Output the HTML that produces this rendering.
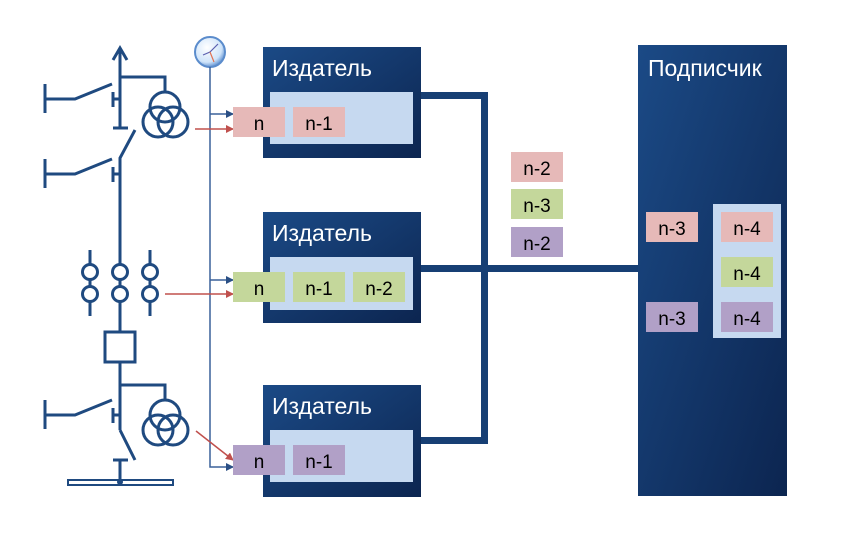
<!DOCTYPE html>
<html><head><meta charset="utf-8"><style>
html,body{margin:0;padding:0;background:#fff;}
svg{display:block;}
text{font-family:"Liberation Sans","DejaVu Sans",sans-serif;}
</style></head><body>
<svg width="847" height="547" viewBox="0 0 847 547" xmlns="http://www.w3.org/2000/svg">
<defs>
<linearGradient id="g" x1="0" y1="0" x2="1" y2="1">
<stop offset="0" stop-color="#1b4a86"/><stop offset="1" stop-color="#0c2550"/>
</linearGradient>
<marker id="ab" markerWidth="8" markerHeight="8" refX="7" refY="4" orient="auto" markerUnits="userSpaceOnUse"><path d="M0,0 L8,4 L0,8 z" fill="#2a4f85"/></marker>
<marker id="ar" markerWidth="8" markerHeight="8" refX="7" refY="4" orient="auto" markerUnits="userSpaceOnUse"><path d="M0,0 L8,4 L0,8 z" fill="#c0504d"/></marker>
<radialGradient id="cl" cx="0.4" cy="0.35" r="0.7"><stop offset="0" stop-color="#fff"/><stop offset="0.7" stop-color="#cfe4fa"/><stop offset="1" stop-color="#4a80c8"/></radialGradient>
</defs>

<g stroke="#1f4a80" stroke-width="3" fill="none">
<path d="M120,48 V128 M113,60 L120,48 L127,60"/>
<path d="M113,128 H128"/>
<path d="M120,77 H165 V92"/>
<circle cx="165" cy="107" r="15"/><circle cx="158" cy="122" r="15"/><circle cx="173" cy="122" r="15"/>
<path d="M45,84 V113 M45,99 H75 L112,84 M113,92 V107 M113,99 H120"/>
<path d="M135,130 L120,158 V250"/>
<path d="M45,159 V188 M45,174 H75 L112,159 M113,167 V182 M113,174 H120"/>
<path d="M90,250 V316 M120,250 V332 M150,250 V316"/>
<circle cx="90" cy="272" r="7.5" fill="#fff"/><circle cx="120" cy="272" r="7.5" fill="#fff"/><circle cx="150" cy="272" r="7.5" fill="#fff"/>
<circle cx="90" cy="294" r="7.5" fill="#fff"/><circle cx="120" cy="294" r="7.5" fill="#fff"/><circle cx="150" cy="294" r="7.5" fill="#fff"/>
<rect x="105" y="332" width="30" height="30"/>
<path d="M120,362 V430"/>
<path d="M120,385 H165 V400"/>
<circle cx="165" cy="415" r="15"/><circle cx="158" cy="430" r="15"/><circle cx="173" cy="430" r="15"/>
<path d="M45,400 V429 M45,415 H75 L112,400 M113,408 V423 M113,415 H120"/>
<path d="M120,430 L135,460 M113,460 H128 M120,460 V482"/>
</g>
<rect x="68" y="480" width="105" height="5" fill="#fff" stroke="#1f4a80" stroke-width="2"/>
<circle cx="120" cy="482" r="3" fill="#1f4a80"/>

<circle cx="210" cy="52" r="15" fill="url(#cl)" stroke="#5b8ccc" stroke-width="2"/>
<path d="M210,52 L218,44 M210,52 L203,55" stroke="#5a5fb0" stroke-width="1.2"/>
<path d="M210,52 L214,62" stroke="#e07050" stroke-width="1.2"/>
<path d="M210,67 V467 H233" stroke="#3a609a" stroke-width="1.5" fill="none" marker-end="url(#ab)"/>
<path d="M210,114 H233" stroke="#3a609a" stroke-width="1.5" marker-end="url(#ab)"/>
<path d="M210,280 H233" stroke="#3a609a" stroke-width="1.5" marker-end="url(#ab)"/>
<path d="M195,129 H233" stroke="#c0504d" stroke-width="1.5" marker-end="url(#ar)"/>
<path d="M165,294 H233" stroke="#c0504d" stroke-width="1.5" marker-end="url(#ar)"/>
<path d="M196,431 L233,460" stroke="#c0504d" stroke-width="1.5" marker-end="url(#ar)"/>

<g fill="#173f74">
<rect x="421" y="92" width="66" height="7"/>
<rect x="481" y="92" width="7" height="352"/>
<rect x="421" y="265" width="217" height="7"/>
<rect x="421" y="437" width="66" height="7"/>
</g>

<g>
<rect x="263" y="47" width="158" height="111" fill="url(#g)"/>
<rect x="270" y="92" width="143" height="52" fill="#c6d9f0"/>
<text x="272" y="76" font-size="23" fill="#fff">Издатель</text>
<rect x="263" y="212" width="158" height="111" fill="url(#g)"/>
<rect x="270" y="257" width="143" height="53" fill="#c6d9f0"/>
<text x="272" y="241" font-size="23" fill="#fff">Издатель</text>
<rect x="263" y="385" width="158" height="112" fill="url(#g)"/>
<rect x="270" y="430" width="143" height="52" fill="#c6d9f0"/>
<text x="272" y="414" font-size="23" fill="#fff">Издатель</text>
<rect x="638" y="45" width="149" height="451" fill="url(#g)"/>
<rect x="713" y="204" width="68" height="134" fill="#c6d9f0"/>
<text x="648" y="76" font-size="23" fill="#fff">Подписчик</text>
</g>

<g font-size="19" text-anchor="middle" fill="#000">
<rect x="233" y="107" width="52" height="30" fill="#e6b9b8"/><text x="259" y="130">n</text>
<rect x="293" y="107" width="52" height="30" fill="#e6b9b8"/><text x="319" y="130">n-1</text>
<rect x="233" y="272" width="52" height="30" fill="#c4d79b"/><text x="259" y="295">n</text>
<rect x="293" y="272" width="52" height="30" fill="#c4d79b"/><text x="319" y="295">n-1</text>
<rect x="353" y="272" width="52" height="30" fill="#c4d79b"/><text x="379" y="295">n-2</text>
<rect x="233" y="445" width="52" height="30" fill="#b1a0c7"/><text x="259" y="468">n</text>
<rect x="293" y="445" width="52" height="30" fill="#b1a0c7"/><text x="319" y="468">n-1</text>
<rect x="511" y="152" width="52" height="30" fill="#e6b9b8"/><text x="537" y="175">n-2</text>
<rect x="511" y="189" width="52" height="30" fill="#c4d79b"/><text x="537" y="212">n-3</text>
<rect x="511" y="227" width="52" height="30" fill="#b1a0c7"/><text x="537" y="250">n-2</text>
<rect x="646" y="212" width="52" height="30" fill="#e6b9b8"/><text x="672" y="235">n-3</text>
<rect x="646" y="302" width="52" height="30" fill="#b1a0c7"/><text x="672" y="325">n-3</text>
<rect x="721" y="212" width="52" height="30" fill="#e6b9b8"/><text x="747" y="235">n-4</text>
<rect x="721" y="257" width="52" height="30" fill="#c4d79b"/><text x="747" y="280">n-4</text>
<rect x="721" y="302" width="52" height="30" fill="#b1a0c7"/><text x="747" y="325">n-4</text>
</g>
</svg>
</body></html>
